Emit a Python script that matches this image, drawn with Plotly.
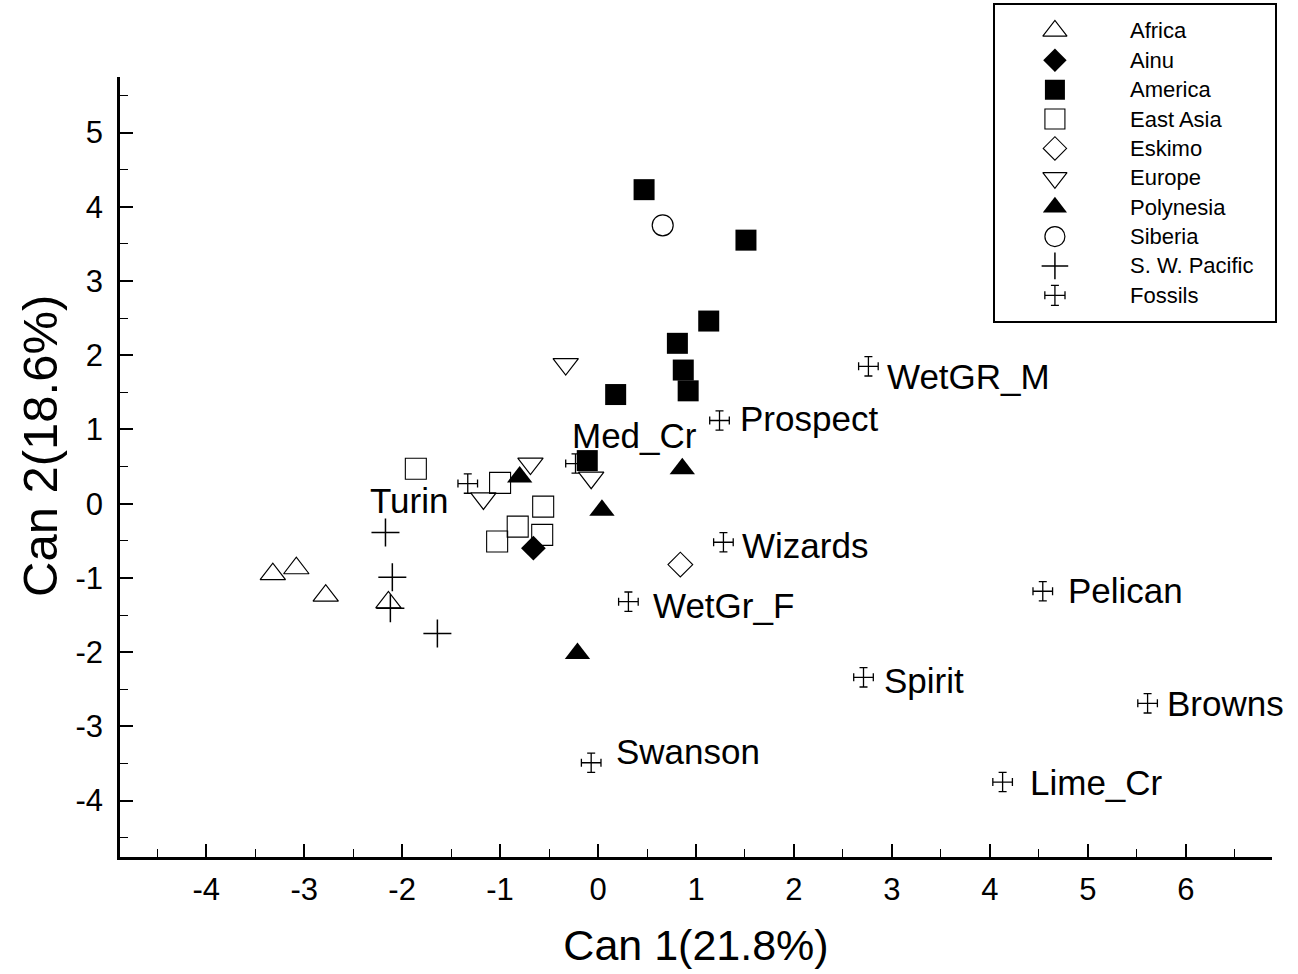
import plotly.graph_objects as go

# ---------------- data ----------------
categories = ["Africa", "Ainu", "America", "East Asia", "Eskimo", "Europe",
              "Polynesia", "Siberia", "S. W. Pacific", "Fossils"]

africa_x = [-3.32, -3.08, -2.78, -2.14]
africa_y = [-0.95, -0.87, -1.24, -1.33]
ainu_x = [-0.66]
ainu_y = [-0.60]
america_x = [0.47, 1.51, 1.13, 0.81, 0.87, 0.92, 0.18, -0.11]
america_y = [4.23, 3.55, 2.46, 2.16, 1.80, 1.52, 1.47, 0.58]
east_asia_x = [-1.86, -1.00, -0.56, -0.82, -0.57, -1.03]
east_asia_y = [0.47, 0.28, -0.04, -0.31, -0.42, -0.51]
eskimo_x = [0.84]
eskimo_y = [-0.82]
europe_x = [-0.33, -0.69, -1.17, -0.07]
europe_y = [1.88, 0.54, 0.07, 0.35]
polynesia_x = [-0.80, 0.86, 0.04, -0.21]
polynesia_y = [0.36, 0.47, -0.09, -2.02]
siberia_x = [0.66]
siberia_y = [3.75]
swpacific_x = [-2.17, -2.10, -2.12, -1.64]
swpacific_y = [-0.39, -0.99, -1.41, -1.75]

fossil_names = ["Turin", "Med_Cr", "Prospect", "WetGR_M", "Wizards", "WetGr_F",
                "Pelican", "Spirit", "Browns", "Swanson", "Lime_Cr"]
fossil_x = [-1.33, -0.23, 1.24, 2.76, 1.28, 0.31, 4.54, 2.71, 5.61, -0.07, 4.13]
fossil_y = [0.27, 0.54, 1.12, 1.85, -0.52, -1.32, -1.18, -2.34, -2.69, -3.49, -3.75]

x_ticks = [-4, -3, -2, -1, 0, 1, 2, 3, 4, 5, 6]
y_ticks = [-4, -3, -2, -1, 0, 1, 2, 3, 4, 5]
x_title = "Can 1(21.8%)"
y_title = "Can 2(18.6%)"

# ---------------- styles ----------------
FONT = "Liberation Sans, Arial, sans-serif"
BLACK = "black"
MS = 20
styles = {
    "Africa": dict(symbol="triangle-up-open", size=MS + 2, color=BLACK, line=dict(width=1.2, color=BLACK)),
    "Ainu": dict(symbol="diamond", size=MS - 1, color=BLACK, line=dict(width=0, color=BLACK)),
    "America": dict(symbol="square", size=MS + 1, color=BLACK, line=dict(width=0, color=BLACK)),
    "East Asia": dict(symbol="square-open", size=MS + 1, color=BLACK, line=dict(width=1.1, color=BLACK)),
    "Eskimo": dict(symbol="diamond-open", size=MS - 1, color=BLACK, line=dict(width=1.1, color=BLACK)),
    "Europe": dict(symbol="triangle-down-open", size=MS + 2, color=BLACK, line=dict(width=1.2, color=BLACK)),
    "Polynesia": dict(symbol="triangle-up", size=MS + 2, color=BLACK, line=dict(width=0, color=BLACK)),
    "Siberia": dict(symbol="circle-open", size=MS + 1, color=BLACK, line=dict(width=1.2, color=BLACK)),
    "S. W. Pacific": dict(symbol="cross-thin-open", size=MS, color=BLACK, line=dict(width=1.5, color=BLACK)),
}
series = {
    "Africa": (africa_x, africa_y),
    "Ainu": (ainu_x, ainu_y),
    "America": (america_x, america_y),
    "East Asia": (east_asia_x, east_asia_y),
    "Eskimo": (eskimo_x, eskimo_y),
    "Europe": (europe_x, europe_y),
    "Polynesia": (polynesia_x, polynesia_y),
    "Siberia": (siberia_x, siberia_y),
    "S. W. Pacific": (swpacific_x, swpacific_y),
}
# label offsets in pixels (xanchor, xshift, yshift)
label_pos = {
    "Turin": ("right", -18, -17),
    "Med_Cr": ("left", -6, 28),
    "Prospect": ("left", 18, 2),
    "WetGR_M": ("left", 17, -10),
    "Wizards": ("left", 17, -3),
    "WetGr_F": ("left", 23, -4),
    "Pelican": ("left", 23, 1),
    "Spirit": ("left", 18, -3),
    "Browns": ("left", 17, 0),
    "Swanson": ("left", 23, 11),
    "Lime_Cr": ("left", 25, 0),
}

fig = go.Figure()

for name, (xs, ys) in series.items():
    st = styles[name]
    fig.add_trace(go.Scatter(x=xs, y=ys, mode="markers", name=name, showlegend=False,
                             marker=st, cliponaxis=False))

fossil_err = dict(ex=0.10, ey=0.13, width=4, thickness=1.3)
fig.add_trace(go.Scatter(
    x=fossil_x, y=fossil_y, mode="markers", name="Fossils", showlegend=False,
    marker=dict(size=1, color=BLACK, opacity=0),
    error_x=dict(type="constant", value=fossil_err["ex"], width=fossil_err["width"],
                 thickness=fossil_err["thickness"], color=BLACK),
    error_y=dict(type="constant", value=fossil_err["ey"], width=fossil_err["width"],
                 thickness=fossil_err["thickness"], color=BLACK),
))

annotations = []
for nm, fx, fy in zip(fossil_names, fossil_x, fossil_y):
    anc, xs, ys = label_pos[nm]
    annotations.append(dict(x=fx, y=fy, xref="x", yref="y", text=nm, showarrow=False,
                            xanchor=anc, yanchor="middle", xshift=xs, yshift=ys,
                            font=dict(family=FONT, size=35, color=BLACK)))

# ---------------- custom legend (secondary axes) ----------------
LEG_SYM_X = 0.214
LEG_TXT_X = 0.475
for i, cat in enumerate(categories):
    if cat in styles:
        st = dict(styles[cat])
        st["size"] = st["size"] - 1
        fig.add_trace(go.Scatter(x=[LEG_SYM_X], y=[i], xaxis="x2", yaxis="y2", mode="markers",
                                 showlegend=False, hoverinfo="skip", marker=st))
    else:
        fig.add_trace(go.Scatter(
            x=[LEG_SYM_X], y=[i], xaxis="x2", yaxis="y2", mode="markers", showlegend=False,
            hoverinfo="skip", marker=dict(size=1, color=BLACK, opacity=0),
            error_x=dict(type="constant", value=0.036, width=4, thickness=1.3, color=BLACK),
            error_y=dict(type="constant", value=0.34, width=4, thickness=1.3, color=BLACK)))
    annotations.append(dict(x=LEG_TXT_X, y=i, xref="x2", yref="y2", text=cat, showarrow=False,
                            xanchor="left", yanchor="middle",
                            font=dict(family=FONT, size=22, color=BLACK)))

W, H = 1298, 974
ML, MR, MT, MB = 120, 23, 3, 117
pw = W - ML - MR
ph = H - MT - MB

# y-axis title as a rotated annotation (centred where the reference puts it)
annotations.append(dict(x=(40 - ML) / pw, y=(857 - 445) / ph, xref="paper", yref="paper",
                        text=y_title, textangle=-90, showarrow=False,
                        xanchor="center", yanchor="middle",
                        font=dict(family=FONT, size=49, color=BLACK)))

axis_common = dict(showgrid=False, zeroline=False, showline=True, linewidth=2.5, linecolor=BLACK,
                   ticks="inside", ticklen=13, tickwidth=1.5, tickcolor=BLACK,
                   tickfont=dict(family=FONT, size=31, color=BLACK),
                   minor=dict(dtick=0.5, ticks="inside", ticklen=8, tickwidth=1, tickcolor=BLACK))

fig.update_layout(
    width=W, height=H,
    margin=dict(l=ML, r=MR, t=MT, b=MB),
    paper_bgcolor="white", plot_bgcolor="white",
    showlegend=False,
    font=dict(family=FONT, color=BLACK),
    xaxis=dict(range=[-4.88, 6.88], domain=[0, (1272 - ML) / pw],
               tickvals=x_ticks, ticktext=[str(v) for v in x_ticks], ticklabelstandoff=3,
               title=dict(text=x_title, font=dict(family=FONT, size=43, color=BLACK), standoff=24),
               anchor="y", **axis_common),
    yaxis=dict(range=[-4.76, 5.75], domain=[0, (857 - 75) / ph],
               tickvals=y_ticks, ticktext=[str(v) for v in y_ticks], ticklabelstandoff=8,
               anchor="x", **axis_common),
    xaxis2=dict(domain=[(995 - ML) / pw, 1], range=[0, 1], anchor="y2",
                showgrid=False, zeroline=False, showticklabels=False, ticks="",
                showline=True, mirror=True, linewidth=1.8, linecolor=BLACK, fixedrange=True),
    yaxis2=dict(domain=[(857 - 320) / ph, 1], range=[9.884, -0.883], anchor="x2",
                showgrid=False, zeroline=False, showticklabels=False, ticks="",
                showline=True, mirror=True, linewidth=1.8, linecolor=BLACK, fixedrange=True),
    annotations=annotations,
)

fig.write_html("out.html", config={"displayModeBar": False},
               post_script="document.body.style.margin='0';")
